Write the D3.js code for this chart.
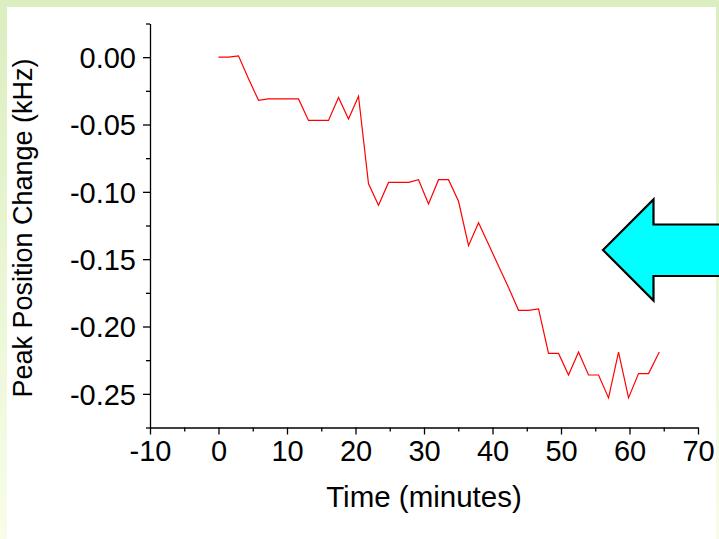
<!DOCTYPE html>
<html>
<head>
<meta charset="utf-8">
<script src="https://cdn.jsdelivr.net/npm/d3@7"></script>
<style>
  html, body { margin: 0; padding: 0; }
  svg { display: block; }
  text { font-family: "Liberation Sans", Arial, sans-serif; fill: #000; }
</style>
</head>
<body>
<svg id="chart" width="719" height="539"></svg>
<script>
// Measured peak shift over time
const timeMinutes = [0.00, 1.46, 2.92, 4.38, 5.84, 7.30, 8.76, 10.22, 11.68, 13.14,
  14.60, 16.06, 17.52, 18.98, 20.44, 21.90, 23.36, 24.82, 26.28, 27.74,
  29.20, 30.66, 32.12, 33.58, 35.04, 36.50, 37.96, 39.42, 40.88, 42.34,
  43.80, 45.26, 46.72, 48.18, 49.64, 51.10, 52.56, 54.02, 55.48, 56.94,
  58.40, 59.86, 61.32, 62.78, 64.35];
const peakShiftKHz = [0.000, 0.000, 0.001, -0.016, -0.032, -0.031, -0.031, -0.031, -0.031, -0.047,
  -0.047, -0.047, -0.030, -0.046, -0.029, -0.094, -0.110, -0.093, -0.093, -0.093,
  -0.091, -0.109, -0.091, -0.091, -0.107, -0.140, -0.123, -0.139, -0.155, -0.171,
  -0.188, -0.188, -0.187, -0.220, -0.220, -0.236, -0.219, -0.236, -0.236, -0.253,
  -0.219, -0.253, -0.235, -0.235, -0.219];
const xTicks = [-10, 0, 10, 20, 30, 40, 50, 60, 70];
const yTicks = [0.00, -0.05, -0.10, -0.15, -0.20, -0.25];
const xMinorTicks = [-5, 5, 15, 25, 35, 45, 55, 65];
const yMinorTicks = [0.025, -0.025, -0.075, -0.125, -0.175, -0.225, -0.275];

const W = 719, H = 539;
const svg = d3.select("#chart");

// Page background: soft green fade with a white panel
const defs = svg.append("defs");
const grad = defs.append("linearGradient").attr("id", "bg").attr("x1", 0).attr("y1", 0).attr("x2", 0).attr("y2", 1);
grad.append("stop").attr("offset", "0%").attr("stop-color", "#dbeebf");
grad.append("stop").attr("offset", "100%").attr("stop-color", "#f8fde9");
svg.append("rect").attr("width", W).attr("height", H).attr("fill", "url(#bg)");
svg.append("rect").attr("x", 7).attr("y", 7).attr("width", 709).attr("height", H - 7).attr("fill", "#fff");

const x = d3.scaleLinear().domain([-10, 70]).range([150, 698]);
const y = d3.scaleLinear().domain([-0.275, 0.025]).range([427.5, 23.5]);

const axisFont = 29;

// X axis
const gx = svg.append("g").attr("transform", `translate(0,${y(-0.275)})`);
gx.call(d3.axisBottom(x).tickValues(xTicks).tickFormat(d3.format("d")).tickSizeInner(7).tickSizeOuter(0).tickPadding(6));
gx.append("g").call(d3.axisBottom(x).tickValues(xMinorTicks).tickFormat("").tickSize(4).tickSizeOuter(0))
  .select(".domain").remove();

// Y axis
const gy = svg.append("g").attr("transform", `translate(${x(-10)},0)`);
gy.call(d3.axisLeft(y).tickValues(yTicks).tickFormat(d3.format(".2f")).tickSizeInner(7).tickSizeOuter(0).tickPadding(7));
gy.append("g").call(d3.axisLeft(y).tickValues(yMinorTicks).tickFormat("").tickSize(4).tickSizeOuter(0))
  .select(".domain").remove();

svg.selectAll(".domain, .tick line").attr("stroke", "#000").attr("stroke-width", 1.3);
svg.selectAll(".tick text").attr("font-size", axisFont).style("font-family", "'Liberation Sans', Arial, sans-serif").attr("fill", "#000");
gx.selectAll(".tick text").attr("dy", "0.71em");
gy.selectAll(".tick text").attr("dy", "0.36em");
// Minus signs drawn as plain hyphens
svg.selectAll(".tick text").text(function () { return d3.select(this).text().replace("\u2212", "-"); });

// Axis titles
svg.append("text").attr("x", 424).attr("y", 507).attr("text-anchor", "middle")
  .attr("font-size", 29.5).text("Time (minutes)");
svg.append("text").attr("transform", "translate(32,228) rotate(-90)").attr("text-anchor", "middle")
  .attr("font-size", 27).text("Peak Position Change (kHz)");

// Data line
const line = d3.line().x((d, i) => x(timeMinutes[i])).y(d => y(d));
svg.append("path").datum(peakShiftKHz).attr("d", line)
  .attr("fill", "none").attr("stroke", "#ff0000").attr("stroke-width", 1.2).attr("stroke-linejoin", "miter");

// Left-pointing block arrow on the right side
const arrow = [[603, 250], [653.5, 199.5], [653.5, 224.5], [725, 224.5], [725, 276], [653.5, 276], [653.5, 300.5]];
svg.append("path").attr("d", d3.line()(arrow) + "Z")
  .attr("fill", "#00ffff").attr("stroke", "#000").attr("stroke-width", 2.2).attr("stroke-linejoin", "miter");
</script>
</body>
</html>
